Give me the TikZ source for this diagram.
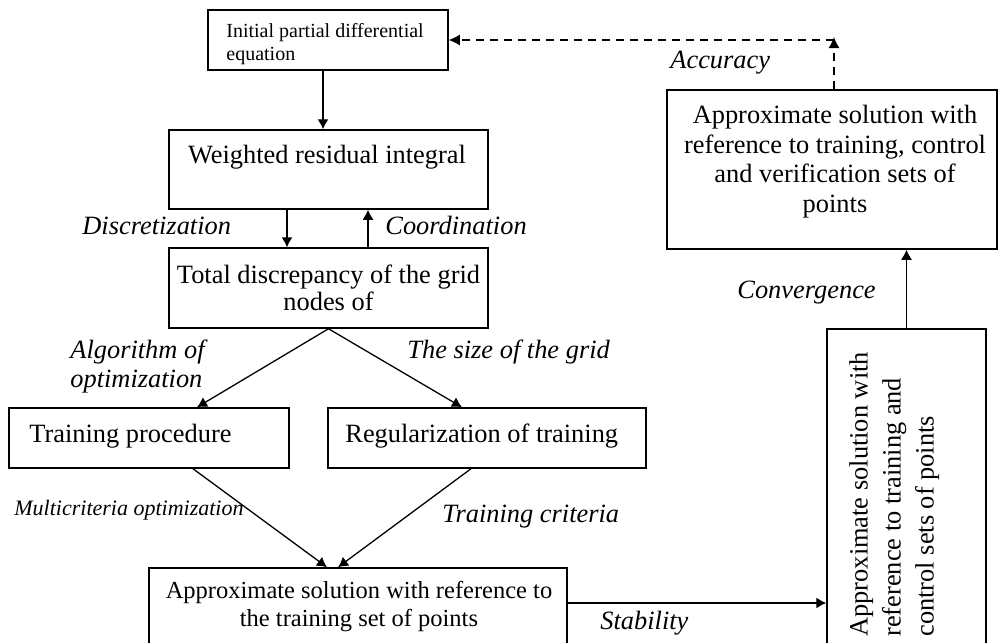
\documentclass[tikz,border=0pt]{standalone}
\usepackage{fontspec}
\setmainfont{Liberation Serif}
\usetikzlibrary{arrows.meta}
\begin{document}
\begin{tikzpicture}[x=0.5pt,y=-0.5pt,
  box/.style={draw, line width=0.75pt, inner sep=0pt},
  txt/.style={inner sep=0pt, font=\fontsize{13.2}{14}\selectfont},
  lbl/.style={inner sep=0pt, font=\fontsize{13.2}{14.5}\selectfont\itshape},
  arr/.style={line width=0.65pt, -{Latex[length=5pt,width=5.5pt]}},
  darr/.style={line width=0.65pt, dash pattern=on 4pt off 3pt, -{Latex[length=5.5pt,width=5.5pt]}}]
\useasboundingbox (0,0) rectangle (998,643);
\clip (0,0) rectangle (998,643);
% boxes
\node[box, minimum width=120pt, minimum height=30pt] (b1) at (328,40) {};
\node[box, minimum width=159.5pt, minimum height=39.5pt] (b2) at (328.5,169.5) {};
\node[box, minimum width=159.5pt, minimum height=40pt, align=center, font=\fontsize{13.2}{13.5}\selectfont] (b3) at (328.5,288) {Total discrepancy of the grid\\nodes of};
\node[box, minimum width=140pt, minimum height=30pt] (b4) at (149,438) {};
\node[box, minimum width=159pt, minimum height=30pt] (b5) at (487,438) {};
\node[box, minimum width=209pt, minimum height=46pt] (b6) at (358,614) {};
\node[box, minimum width=79.5pt, minimum height=165.5pt] (b7) at (906.5,494.5) {};
\node[box, minimum width=165pt, minimum height=79.5pt] (b8) at (832,169.5) {};
% box texts
\node[inner sep=0pt, anchor=north west, align=left, font=\fontsize{10}{11.5}\selectfont] (t1) at (226,23) {Initial partial differential\\equation};
\node[txt, anchor=base] (t2) at (327,163) {Weighted residual integral};
\node[txt, anchor=base west] (t4) at (29,442) {Training procedure};
\node[txt, anchor=base west] (t5) at (345,442) {Regularization of training};
\node[inner sep=0pt, anchor=north, align=center, font=\fontsize{12.25}{14}\selectfont] (t6) at (359,581) {Approximate solution with reference to\\the training set of points};
\node[inner sep=0pt, rotate=90, anchor=north west, align=left, font=\fontsize{13.2}{16.5}\selectfont] (t7) at (849,637) {Approximate solution with\\reference to training and\\control sets of points};
\node[inner sep=0pt, anchor=north, align=center, font=\fontsize{13.2}{14.8}\selectfont] (t8) at (835,105) {Approximate solution with\\reference to training, control\\and verification sets of\\points};
% labels
\node[lbl, anchor=base west] (l1) at (82,234) {Discretization};
\node[lbl, anchor=base west] (l2) at (385,234) {Coordination};
\node[lbl, anchor=north west, align=left] (l3) at (70,340) {Algorithm of\\optimization};
\node[lbl, anchor=base west] (l4) at (407,358) {The size of the grid};
\node[inner sep=0pt, anchor=base west, font=\fontsize{11}{12}\selectfont\itshape] (l5) at (14,515) {Multicriteria optimization};
\node[lbl, anchor=base west] (l6) at (442,522) {Training criteria};
\node[lbl, anchor=base west] (l7) at (600,629) {Stability};
\node[lbl, anchor=base west] (l8) at (670,68) {Accuracy};
\node[lbl, anchor=base west] (l9) at (737,298) {Convergence};
% connectors
\draw[arr] ([xshift=-2.5pt]b1.south) -- ([xshift=-2.5pt]b1.south |- b2.north);
\draw[arr] ([xshift=-20.75pt]b2.south) -- ([xshift=-20.75pt]b2.south |- b3.north);
\draw[arr] ([xshift=19.75pt]b3.north) -- ([xshift=19.75pt]b3.north |- b2.south);
\draw[arr] (b3.south) -- ([xshift=24pt]b4.north);
\draw[arr] (b3.south) -- ([xshift=-12.5pt]b5.north);
\draw[arr] ([xshift=22pt]b4.south) -- ([xshift=-15.5pt]b6.north);
\draw[arr] ([xshift=-8pt]b5.south) -- ([xshift=-10pt]b6.north);
\draw[arr] ([yshift=5.5pt]b6.east) -- ([yshift=5.5pt]b6.east -| b7.west);
\draw[arr] (b7.north) -- (b7.north |- b8.south);
\coordinate (corner) at (834,37);
\draw[darr] ([xshift=1pt]b8.north) -- (corner);
\draw[darr] (834,40) -- (b1.east);
\end{tikzpicture}
\end{document}
